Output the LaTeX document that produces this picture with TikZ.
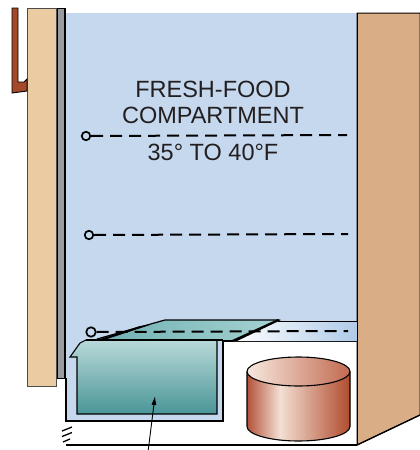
\documentclass[tikz,border=0pt]{standalone}
\usepackage{fontspec}
\setmainfont{Liberation Sans}
\usetikzlibrary{arrows.meta}
\definecolor{wallblue}{HTML}{C5D8EE}
\definecolor{doortan}{HTML}{EBCBA1}
\definecolor{sidetan}{HTML}{D9AE86}
\definecolor{hingebrown}{HTML}{A34A2A}
\definecolor{gaskgray}{HTML}{9A9B9E}
\definecolor{inkgray}{HTML}{231F20}
\definecolor{binlight}{HTML}{B9D9D9}
\definecolor{bindark}{HTML}{4A9598}
\definecolor{lidteal}{HTML}{6FB1B2}
\definecolor{lidlight}{HTML}{A6D1D1}
\definecolor{shelfblue}{HTML}{AFCAE8}
\definecolor{canD}{HTML}{B4523A}
\definecolor{canL}{HTML}{F3DFD3}
\definecolor{canR}{HTML}{B04C2E}
\definecolor{canTopL}{HTML}{F7E8DE}
\definecolor{canTopR}{HTML}{C26A50}
\pgfdeclarehorizontalshading{canshade}{100bp}{color(0bp)=(canD); color(25bp)=(canD); color(41bp)=(canL); color(75bp)=(canR); color(100bp)=(canR)}
\begin{document}
\begin{tikzpicture}[x=1pt,y=-1pt,
  outl/.style={draw=black,line width=1pt},
  label/.style={font=\fontsize{23.5}{28}\selectfont,text=inkgray,inner sep=0pt,anchor=base},
  pivot/.style={circle,draw=black,line width=1.7pt,fill=wallblue,inner sep=0pt,minimum size=8.5pt},
  shelfline/.style={draw=black,line width=2pt,dash pattern=on 12pt off 7pt}]
\useasboundingbox (0,0) rectangle (420,450);

% interior back wall of the fresh-food compartment
\fill[wallblue] (66,13) -- (357,13) -- (357,341) -- (223,341) -- (223,421) -- (66,421) -- cycle;
% open lower compartment
\fill[white] (66,421) -- (223,421) -- (223,341) -- (357,341) -- (357,445) -- (66,445) -- cycle;

% side wall of the cabinet
\filldraw[fill=sidetan,draw=black,line width=1pt] (357,13) -- (420,13) -- (420,415) -- (357,445) -- cycle;

% door panel, gasket strip and hinge
\filldraw[fill=doortan,draw=black!70,line width=0.6pt] (27,8) rectangle (56,386);
\filldraw[fill=gaskgray,draw=black,line width=1pt] (57,8) rectangle (65,378);
\draw[black,line width=1.4pt] (65,8) -- (65,378);
\filldraw[fill=hingebrown,draw=black,line width=0.9pt] (12,8) -- (18,8) -- (18,82) -- (24,82) -- (27,79) -- (27,91) -- (12,93) -- cycle;

% crisper enclosure outline
\draw[black,line width=1.2pt] (66,378) -- (66,421) -- (223,421) -- (223,341) -- (357,341);

% glass shelf strip to the right of the lid
\shade[left color=white,right color=shelfblue] (278,321) -- (357,321) -- (357,341) -- (233,341) -- cycle;
\draw[black,line width=0.6pt] (278,321) -- (357,321);

% crisper lid top surface
\shade[left color=lidteal,right color=lidlight] (97,339) -- (165,320) -- (278,320) -- (233,340) -- cycle;
\draw[black,line width=1.2pt] (97,339) -- (165,320) -- (278,320);
\fill[black] (278,319) -- (281,320) -- (237,341) -- (230,341) -- cycle;
\fill[black] (97,340) -- (140,326) -- (150,325) -- (104,340) -- cycle;

% crisper drawer front
\shade[top color=binlight,bottom color=bindark] (77,414) -- (77,357) -- (70,357) -- (80,343) -- (86,340) -- (217,340) -- (217,414) -- cycle;
\draw[black,line width=1.1pt] (77,414) -- (77,357) -- (70,357) -- (80,343) -- (86,340) -- (217,340) -- (217,414) -- cycle;
\draw[black,line width=1.8pt] (86,340) -- (223,340);

% storage can on the floor
\shade[shading=canshade] (247,371.5) -- (247,426.5) arc[start angle=180,end angle=0,x radius=51.5,y radius=14.5] -- (350,371.5) -- cycle;
\draw[black,line width=1.1pt] (247,371.5) -- (247,426.5) arc[start angle=180,end angle=0,x radius=51.5,y radius=14.5] -- (350,371.5);
\shade[left color=canTopL,right color=canTopR,draw=black,line width=1.1pt] (298.5,371.5) ellipse[x radius=51.5,y radius=14.5];

% floor line and break marks
\draw[black,line width=2pt] (66,445) -- (357,445);
\draw[black,line width=1.3pt] (357,445) -- (420,415);
\draw[black,line width=0.8pt] (357,13) -- (357,445);
\draw[black,line width=1.3pt] (62,431) -- (72,427);
\draw[black,line width=1.3pt] (62,436.5) -- (72,432.5);
\draw[black,line width=1.3pt] (63,442) -- (70,439);

% shelf supports with their pivots
\node[pivot] (p1) at (86,136) {};
\node[pivot] (p2) at (89,235) {};
\node[pivot,minimum size=9.5pt] (p3) at (91,332) {};
\coordinate (e1) at (347,135);
\coordinate (e2) at (348,234);
\coordinate (e3) at (348,331);
\draw[shelfline] (p1.east) -- (e1);
\draw[shelfline] (p2.east) -- (e2);
\draw[shelfline] (p3.east) -- (e3);

% labels
\node[label] (t1) at (213,97) {FRESH-FOOD};
\node[label] (t2) at (213,123) {COMPARTMENT};
\node[label] (t3) at (213,160) {35° TO 40°F};

% pointer to the crisper drawer
\coordinate (ptail) at (148,452);
\coordinate (phead) at (155,396);
\draw[black,line width=0.9pt,-{Latex[length=9pt,width=5pt]}] (ptail) -- (phead);
\end{tikzpicture}
\end{document}
